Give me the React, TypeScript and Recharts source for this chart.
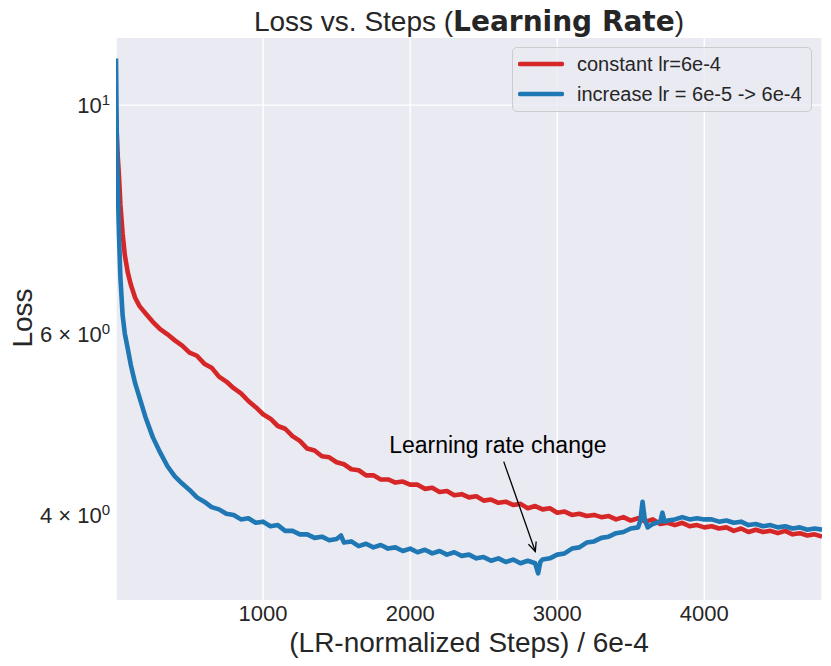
import React from "react";
import {
  LineChart,
  Line,
  XAxis,
  YAxis,
  CartesianGrid,
  Legend,
  ReferenceLine,
  ReferenceDot,
  Label,
} from "recharts";

// constant lr=6e-4
const constantSteps = [
  0, 5, 10, 20, 30, 45, 60, 80, 100, 130, 160, 200, 250, 300, 350, 400, 450,
  500, 550, 600, 650, 700, 750, 800, 850, 900, 950, 1000, 1050, 1100, 1150,
  1200, 1250, 1300, 1350, 1400, 1450, 1500, 1550, 1600, 1650, 1700, 1750, 1800,
  1850, 1900, 1950, 2000, 2050, 2100, 2150, 2200, 2250, 2300, 2350, 2400, 2450,
  2500, 2550, 2600, 2650, 2700, 2750, 2800, 2850, 2900, 2950, 3000, 3050, 3100,
  3150, 3200, 3250, 3300, 3350, 3400, 3450, 3500, 3550, 3600, 3650, 3700, 3750,
  3800, 3850, 3900, 3950, 4000, 4050, 4100, 4150, 4200, 4250, 4300, 4350, 4400,
  4450, 4500, 4550, 4600, 4650, 4700, 4750, 4800,
];
const constantLoss = [
  9.8, 9.4, 9.0, 8.55, 8.0, 7.5, 7.15, 6.88, 6.7, 6.5, 6.38, 6.28, 6.16, 6.06,
  5.99, 5.91, 5.84, 5.75, 5.71, 5.61, 5.56, 5.45, 5.39, 5.31, 5.25, 5.16, 5.09,
  5.01, 4.96, 4.88, 4.85, 4.77, 4.72, 4.64, 4.62, 4.56, 4.55, 4.5, 4.48, 4.43,
  4.42, 4.37, 4.37, 4.33, 4.33, 4.3, 4.31, 4.28, 4.28, 4.24, 4.25, 4.21, 4.22,
  4.18, 4.19, 4.16, 4.17, 4.13, 4.14, 4.11, 4.12, 4.09, 4.1, 4.06, 4.08, 4.05,
  4.06, 4.02, 4.03, 4.0, 4.01, 3.99, 4.0, 3.98, 3.99, 3.96, 3.98, 3.95, 3.97,
  3.94, 3.96, 3.92, 3.93, 3.91, 3.93, 3.9, 3.91, 3.89, 3.9, 3.88, 3.89, 3.86,
  3.88, 3.85, 3.87, 3.85, 3.86, 3.84, 3.86, 3.83, 3.84, 3.82, 3.83, 3.81,
];

// increase lr = 6e-5 -> 6e-4
const increaseSteps = [
  0, 5, 10, 20, 30, 45, 60, 80, 100, 130, 160, 200, 250, 300, 350, 400, 450,
  500, 550, 600, 650, 700, 750, 800, 850, 900, 950, 1000, 1050, 1100, 1150,
  1200, 1250, 1300, 1350, 1400, 1450, 1500, 1530, 1550, 1600, 1650, 1700, 1750,
  1800, 1850, 1900, 1950, 2000, 2050, 2100, 2150, 2200, 2250, 2300, 2350, 2400,
  2450, 2500, 2550, 2600, 2650, 2700, 2750, 2800, 2850, 2870, 2885, 2900, 2950,
  3000, 3050, 3100, 3150, 3200, 3250, 3300, 3350, 3400, 3450, 3500, 3550, 3565,
  3580, 3595, 3615, 3650, 3700, 3715, 3730, 3750, 3800, 3850, 3900, 3950, 4000,
  4050, 4100, 4150, 4200, 4250, 4300, 4350, 4400, 4450, 4500, 4550, 4600, 4650,
  4700, 4750, 4800,
];
const increaseLoss = [
  11.1, 9.4, 8.6, 7.5, 6.8, 6.25, 6.0, 5.8, 5.6, 5.37, 5.2, 4.98, 4.76, 4.6,
  4.46, 4.36, 4.29, 4.23, 4.16, 4.12, 4.07, 4.05, 4.01, 4.0, 3.96, 3.97, 3.93,
  3.94, 3.9, 3.91, 3.86, 3.86, 3.83, 3.83, 3.8, 3.81, 3.78, 3.79, 3.82, 3.76,
  3.77, 3.73, 3.75, 3.72, 3.74, 3.71, 3.72, 3.69, 3.71, 3.68, 3.7, 3.67, 3.69,
  3.66, 3.68, 3.65, 3.66, 3.63, 3.64, 3.61, 3.63, 3.6, 3.62, 3.59, 3.61, 3.59,
  3.51, 3.6, 3.62, 3.63, 3.66, 3.67, 3.71, 3.72, 3.76, 3.77, 3.8, 3.81, 3.84,
  3.85, 3.88, 3.89, 3.95, 4.12, 3.96, 3.89, 3.92, 3.94, 4.02, 3.94, 3.95, 3.96,
  3.98, 3.96, 3.97, 3.96, 3.96, 3.94, 3.95, 3.93, 3.94, 3.91, 3.92, 3.9, 3.91,
  3.89, 3.9, 3.88, 3.89, 3.87, 3.88, 3.87,
];

const xTicks = [1000, 2000, 3000, 4000];
const yTicks = [4, 6, 10];

// annotation: text position and arrow (data coords)
const noteText = "Learning rate change";
const noteAt = { step: 2596, loss: 4.68 };
const arrowTail = { step: 2636, loss: 4.506 };
const arrowHead = { step: 2851, loss: 3.686 };

const constantData = constantSteps.map((s, i) => ({ step: s, loss: constantLoss[i] }));
const increaseData = increaseSteps.map((s, i) => ({ step: s, loss: increaseLoss[i] }));

const FONT = "'Liberation Sans', Arial, sans-serif";
const INK = "#262626";

const LogTick = (props: any) => {
  const { x, y, payload } = props;
  const v = payload.value;
  const exp = Math.floor(Math.log10(v) + 1e-9);
  const mant = Math.round(v / Math.pow(10, exp));
  return (
    <text x={x} y={y + 8} textAnchor="end" fontSize={22} fill={INK} fontFamily={FONT}>
      {mant === 1 ? "10" : `${mant} \u00d7 10`}
      <tspan dy={-8} fontSize={15}>
        {exp}
      </tspan>
    </text>
  );
};

const XLabel = (props: any) => {
  const { x, y, width } = props.viewBox;
  return (
    <text x={x + width / 2} y={y + 52} textAnchor="middle" fontSize={28} fill={INK} fontFamily={FONT}>
      (LR-normalized Steps) / 6e-4
    </text>
  );
};

const YLabel = () => (
  <text x={32} y={318} transform="rotate(-90, 32, 318)" textAnchor="middle" fontSize={28} fill={INK} fontFamily={FONT}>
    Loss
  </text>
);

const Arrow = (props: any) => {
  const { x1, y1, x2, y2 } = props;
  const ang = Math.atan2(y2 - y1, x2 - x1);
  const len = 10;
  const spread = 0.42;
  const ax = x2 - len * Math.cos(ang - spread);
  const ay = y2 - len * Math.sin(ang - spread);
  const bx = x2 - len * Math.cos(ang + spread);
  const by = y2 - len * Math.sin(ang + spread);
  return (
    <g stroke="#000" strokeWidth={1.3} fill="none">
      <line x1={x1} y1={y1} x2={x2} y2={y2} />
      <polyline points={`${ax},${ay} ${x2},${y2} ${bx},${by}`} />
    </g>
  );
};

const NoteText = (props: any) => (
  <text x={props.cx} y={props.cy + 8} textAnchor="middle" fontSize={23} fill="#000" fontFamily={FONT}>
    {noteText}
  </text>
);

const LegendBox = (props: any) => (
  <div
    style={{
      boxSizing: "border-box",
      width: 300,
      border: "1px solid #cccccc",
      borderRadius: 5,
      background: "rgba(234,234,242,0.8)",
      padding: "1px 0 2px 5px",
      fontFamily: FONT,
      fontSize: 20,
      color: INK,
    }}
  >
    {(props.payload || []).map((item: any) => (
      <div key={item.value} style={{ display: "flex", alignItems: "center", height: 30 }}>
        <svg width={46} height={8}>
          <line x1={2} y1={4} x2={44} y2={4} stroke={item.color} strokeWidth={4.5} strokeLinecap="round" />
        </svg>
        <span style={{ marginLeft: 13 }}>{item.value}</span>
      </div>
    ))}
  </div>
);

export default function App() {
  return (
    <div style={{ position: "absolute", left: 0, top: 0, width: 831, height: 666, background: "#fff" }}>
      <LineChart
        width={831}
        height={666}
        margin={{ top: 38, right: 9, bottom: 0, left: 0 }}
        style={{ fontFamily: FONT }}
      >
        <CartesianGrid fill="#eaeaf2" stroke="#ffffff" strokeWidth={1.4} horizontal={false} />
        <ReferenceLine y={10} stroke="#ffffff" strokeWidth={1.4} />
        <XAxis
          dataKey="step"
          type="number"
          domain={[0, 4800]}
          ticks={xTicks}
          allowDataOverflow
          height={66}
          tickLine={false}
          axisLine={false}
          tickSize={0}
          tickMargin={5}
          tick={{ fill: INK, fontSize: 22, fontFamily: FONT }}
        >
          <Label content={XLabel} />
        </XAxis>
        <YAxis
          type="number"
          scale="log"
          domain={[3.307, 11.62]}
          allowDataOverflow
          ticks={yTicks}
          width={116}
          tickLine={false}
          axisLine={false}
          tickSize={0}
          tickMargin={6}
          tick={<LogTick />}
        >
          <Label content={YLabel} />
        </YAxis>
        <Line
          data={constantData}
          dataKey="loss"
          name="constant lr=6e-4"
          stroke="#d62728"
          strokeWidth={4.6}
          strokeLinejoin="round"
          dot={false}
          isAnimationActive={false}
        />
        <Line
          data={increaseData}
          dataKey="loss"
          name="increase lr = 6e-5 -> 6e-4"
          stroke="#1f77b4"
          strokeWidth={4.6}
          strokeLinejoin="round"
          dot={false}
          isAnimationActive={false}
        />
        <ReferenceLine
          segment={[
            { x: arrowTail.step, y: arrowTail.loss },
            { x: arrowHead.step, y: arrowHead.loss },
          ]}
          shape={<Arrow />}
        />
        <ReferenceDot x={noteAt.step} y={noteAt.loss} r={0} shape={<NoteText />} />
        <Legend
          layout="vertical"
          align="center"
          verticalAlign="middle"
          wrapperStyle={{ left: 512, top: 47, width: 300 }}
          content={<LegendBox />}
        />
      </LineChart>
      <svg
        width={831}
        height={40}
        style={{ position: "absolute", left: 0, top: 0, pointerEvents: "none" }}
      >
        <text x={469} y={31} textAnchor="middle" fontSize={28} fill={INK} fontFamily={FONT}>
          Loss vs. Steps (
          <tspan fontFamily="'DejaVu Sans', sans-serif" fontWeight="bold">
            Learning Rate
          </tspan>
          )
        </text>
      </svg>
    </div>
  );
}
